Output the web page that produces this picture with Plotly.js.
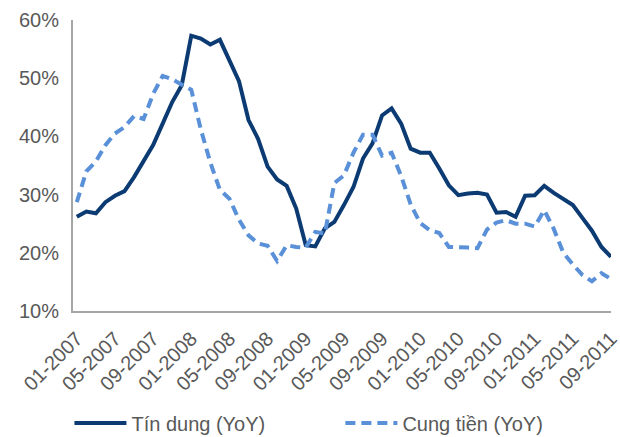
<!DOCTYPE html>
<html>
<head>
<meta charset="utf-8">
<script src="https://cdn.plot.ly/plotly-3.0.1.min.js"></script>
<style>html,body{margin:0;padding:0;background:#fff;}#chart{width:620px;height:437px;}</style>
</head>
<body>
<div id="chart"></div>
<script>
// Months from 01-2007 to 09-2011
const months = [
  "01-2007","02-2007","03-2007","04-2007","05-2007","06-2007","07-2007","08-2007","09-2007","10-2007","11-2007","12-2007",
  "01-2008","02-2008","03-2008","04-2008","05-2008","06-2008","07-2008","08-2008","09-2008","10-2008","11-2008","12-2008",
  "01-2009","02-2009","03-2009","04-2009","05-2009","06-2009","07-2009","08-2009","09-2009","10-2009","11-2009","12-2009",
  "01-2010","02-2010","03-2010","04-2010","05-2010","06-2010","07-2010","08-2010","09-2010","10-2010","11-2010","12-2010",
  "01-2011","02-2011","03-2011","04-2011","05-2011","06-2011","07-2011","08-2011","09-2011"
];
// Credit growth (YoY, %)
const tinDung = [
  26.2,27.1,26.8,28.7,29.8,30.6,33.0,35.6,38.5,42.2,45.9,48.8,
  57.3,56.8,55.8,56.6,53.1,49.5,42.8,39.6,34.8,32.6,31.5,27.6,
  21.3,21.1,24.2,25.3,28.2,31.3,36.2,38.8,43.6,44.8,42.2,37.9,
  37.2,37.2,34.5,31.6,29.9,30.2,30.3,30.0,26.9,27.0,26.2,29.8,
  29.9,31.5,30.3,29.2,28.2,26.0,23.8,21.0,19.3
];
// Money supply growth (YoY, %)
const cungTien = [
  28.7,34.0,35.7,38.5,40.5,41.6,43.5,43.0,47.3,50.4,49.8,48.8,
  48.0,41.2,35.5,30.8,29.3,25.7,23.0,21.6,21.2,18.6,21.3,21.0,
  20.9,23.6,23.3,32.0,33.3,37.2,40.3,40.3,36.7,37.2,33.2,28.3,
  25.1,23.9,23.4,21.0,21.0,20.9,20.8,24.0,25.2,25.6,25.0,25.0,
  24.5,27.3,24.1,20.0,18.0,16.2,15.1,16.5,15.5
];
const tickMonths = months.filter((m, i) => i % 4 === 0);
const yTicks = [10, 20, 30, 40, 50, 60];
const yTickText = yTicks.map(v => v + "%");

const idx = months.map((m, i) => i);
const tickIdx = idx.filter(i => i % 4 === 0);

const font = {family: "Liberation Sans, Arial, sans-serif", size: 20, color: "#595959"};

const traces = [
  {x: idx, y: tinDung, type: "scatter", mode: "lines", name: "Tín dung (YoY)", legend: "legend",
   line: {color: "#0B3B72", width: 4}, hoverinfo: "skip"},
  {x: idx, y: cungTien, type: "scatter", mode: "lines", name: "Cung tiền (YoY)", legend: "legend2",
   line: {color: "#5990D8", width: 4, dash: "10px,6px"}, hoverinfo: "skip"}
];

const legendBase = {orientation: "h", xref: "container", yref: "container", y: 0.032,
  xanchor: "left", yanchor: "middle", itemwidth: 52, font: font, bgcolor: "rgba(0,0,0,0)", borderwidth: 0};

const layout = {
  width: 620, height: 437,
  margin: {l: 73, r: 9, t: 20, b: 126},
  paper_bgcolor: "#fff", plot_bgcolor: "#fff",
  font: font,
  showlegend: true,
  legend: Object.assign({}, legendBase, {x: 0.112}),
  legend2: Object.assign({}, legendBase, {x: 0.549}),
  xaxis: {
    range: [-0.4, 56.0], tickmode: "array", tickvals: tickIdx, ticktext: tickMonths,
    tickangle: -45, showgrid: false, zeroline: false, showline: true, linecolor: "#A6A6A6", linewidth: 2,
    ticks: "", tickfont: font, ticklabelstandoff: 6, ticklabeloverflow: "allow", fixedrange: true
  },
  yaxis: {
    range: [10, 60], tickmode: "array", tickvals: yTicks, ticktext: yTickText,
    showgrid: false, zeroline: false, showline: true, linecolor: "#A6A6A6", linewidth: 2,
    ticks: "", tickfont: font, ticklabelstandoff: 8, fixedrange: true
  }
};

Plotly.newPlot("chart", traces, layout, {staticPlot: true, displayModeBar: false});
</script>
</body>
</html>
